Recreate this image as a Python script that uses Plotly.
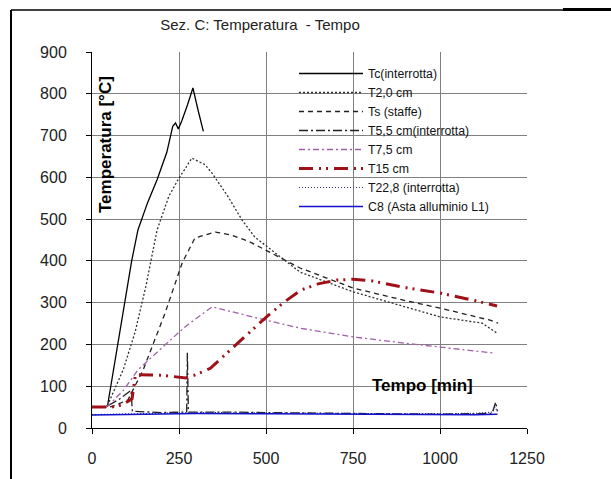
import plotly.graph_objects as go

# ---- data (time in min, temperature in °C) ----
tc_t = [0, 20, 40, 45, 60, 75, 93, 114, 132, 160, 187, 215, 232, 240, 248, 258, 275, 290, 305, 320]
tc_v = [50, 50, 50, 55, 130, 200, 300, 400, 474, 540, 594, 660, 722, 730, 716, 735, 775, 814, 760, 710]

t2_t = [0, 40, 45, 90, 124, 155, 187, 221, 247, 287, 325, 345, 390, 431, 468, 500, 598, 750, 900, 1000, 1121, 1164]
t2_v = [50, 50, 55, 140, 230, 340, 474, 555, 594, 646, 630, 610, 555, 498, 457, 436, 373, 326, 290, 266, 251, 227]

ts_t = [0, 50, 60, 103, 147, 210, 259, 296, 355, 400, 450, 500, 598, 750, 900, 1000, 1144, 1167]
ts_v = [50, 50, 52, 67, 139, 275, 395, 455, 469, 462, 447, 425, 383, 335, 305, 287, 258, 251]

t55_t = [0, 40, 80, 112, 116, 200, 272, 274, 277, 400, 600, 800, 1000, 1150, 1160, 1165]
t55_v = [50, 50, 70, 90, 40, 37, 38, 180, 38, 38, 36, 35, 33, 35, 62, 40]

t75_t = [0, 45, 90, 132, 210, 267, 345, 402, 500, 598, 750, 900, 1000, 1158]
t75_v = [50, 52, 90, 139, 199, 242, 290, 278, 258, 239, 218, 203, 194, 179]

t15_t = [0, 55, 86, 115, 125, 200, 270, 300, 340, 382, 450, 500, 550, 600, 650, 703, 750, 800, 894, 1000, 1100, 1164]
t15_v = [50, 50, 55, 70, 128, 126, 120, 128, 143, 175, 225, 265, 300, 330, 345, 354, 356, 353, 337, 323, 305, 292]

t228_t = [0, 100, 300, 500, 700, 900, 1100, 1150, 1158, 1165]
t228_v = [32, 34, 37, 36, 35, 34, 35, 38, 50, 40]

c8_t = [0, 100, 300, 500, 700, 900, 1100, 1165]
c8_v = [31, 32, 35, 34, 33, 32, 32, 33]

names = ["Tc(interrotta)", "T2,0 cm", "Ts (staffe)", "T5,5 cm(interrotta)",
         "T7,5 cm", "T15 cm", "T22,8 (interrotta)", "C8 (Asta alluminio L1)"]

x_ticks = [0, 250, 500, 750, 1000, 1250]
y_ticks = [0, 100, 200, 300, 400, 500, 600, 700, 800, 900]

series = [
    (tc_t, tc_v, dict(color="#000000", width=1.3, dash="solid")),
    (t2_t, t2_v, dict(color="#303030", width=1.3, dash="2px,2px")),
    (ts_t, ts_v, dict(color="#202020", width=1.3, dash="5px,4px")),
    (t55_t, t55_v, dict(color="#202020", width=1.3, dash="9px,3px,2px,3px")),
    (t75_t, t75_v, dict(color="#A060A8", width=1.3, dash="6px,3px,2px,3px")),
    (t15_t, t15_v, dict(color="#A01018", width=3, dash="14px,6px,2px,5px,2px,6px")),
    (t228_t, t228_v, dict(color="#303080", width=1.2, dash="1px,2px")),
    (c8_t, c8_v, dict(color="#1010D0", width=1.5, dash="solid")),
]

fig = go.Figure()
for (xs, ys, ln), nm in zip(series, names):
    fig.add_trace(go.Scatter(x=xs, y=ys, mode="lines", name=nm, line=ln))

W, H = 611, 479
L, R, T, B = 92, 527, 52, 428
def px(xp):
    return (xp - L) / (R - L)
def py(yp):
    return (B - yp) / (B - T)

fig.update_layout(
    width=W, height=H,
    margin=dict(l=L, r=W - R, t=T, b=H - B),
    paper_bgcolor="white", plot_bgcolor="white",
    font=dict(family="Liberation Sans, Arial, sans-serif", color="#222222"),
    title=dict(text="Sez. C: Temperatura  - Tempo", x=260 / W, xref="container", xanchor="center",
               y=1 - 25 / H, yref="container", yanchor="middle",
               font=dict(size=15, color="#222222")),
    showlegend=True,
    legend=dict(x=px(294), y=py(59), xanchor="left", yanchor="top",
                bgcolor="rgba(0,0,0,0)", borderwidth=0,
                font=dict(size=12.3, color="#111111"), itemwidth=64,
                tracegroupgap=0),
    xaxis=dict(range=[0, 1250], tickvals=x_ticks, ticktext=[str(v) for v in x_ticks],
               showgrid=True, gridcolor="#808080", gridwidth=1,
               showline=True, linecolor="black", linewidth=1,
               ticks="outside", ticklen=5, tickcolor="black",
               tickfont=dict(size=16, color="#222222"), zeroline=False,
               ticklabelstandoff=11),
    yaxis=dict(range=[0, 900], tickvals=y_ticks, ticktext=[str(v) for v in y_ticks],
               showgrid=True, gridcolor="#808080", gridwidth=1,
               showline=True, linecolor="black", linewidth=1,
               ticks="outside", ticklen=5, tickcolor="black",
               tickfont=dict(size=16, color="#222222"), zeroline=False,
               ticklabelstandoff=16),
    annotations=[
        dict(text="<b>Temperatura [°C]</b>", xref="paper", yref="paper",
             x=px(105), y=py(145), textangle=-90, showarrow=False,
             font=dict(size=17, color="#000000"), xanchor="center", yanchor="middle"),
        dict(text="<b>Tempo [min]</b>", xref="paper", yref="paper",
             x=px(422), y=py(385), showarrow=False,
             font=dict(size=17, color="#000000"), xanchor="center", yanchor="middle"),
    ],
    shapes=[
        dict(type="line", xref="paper", yref="paper", x0=px(11), x1=px(11), y0=py(10), y1=py(479),
             line=dict(color="black", width=2)),
        dict(type="line", xref="paper", yref="paper", x0=px(11), x1=px(563), y0=py(10), y1=py(10),
             line=dict(color="black", width=1.5)),
        dict(type="line", xref="paper", yref="paper", x0=px(563), x1=px(611), y0=py(9.5), y1=py(9.5),
             line=dict(color="black", width=3)),
    ],
)

fig.write_html("out.html")
